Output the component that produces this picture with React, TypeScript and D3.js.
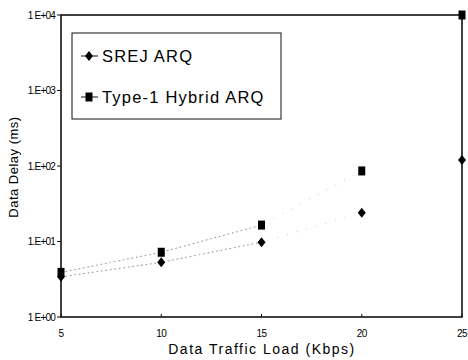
import React, { useEffect, useRef } from 'react'
import * as d3 from 'd3'

const loads = [5, 10, 15, 20, 25]
const srejDelay = [3.4, 5.3, 9.8, 24, 120]
const hybridDelay = [3.9, 7.2, 16.5, 86, 10000]
const yTicks = [1, 10, 100, 1000, 10000]
const yTickLabels = ['1 E+00', '1.E+01', '1.E+02', '1.E+03', '1 E+04']
const seriesNames = ['SREJ ARQ', 'Type-1 Hybrid ARQ']

const W = 468
const H = 360

function App() {
  const ref = useRef<SVGSVGElement>(null)

  useEffect(() => {
    const svg = d3.select(ref.current)
    svg.selectAll('*').remove()
    const left = 61, right = 462, top = 15, bottom = 317

    const x = d3.scaleLinear().domain([5, 25]).range([left, right])
    const y = d3.scaleLog().domain([1, 10000]).range([bottom, top])

    const font = 'Liberation Sans, Arial, sans-serif'

    // faint dotted lines between the points (fade out after 15 Kbps)
    const line = d3.line<number>()
      .x((d, i) => x(loads[i]))
      .y(d => y(d))
    ;[srejDelay, hybridDelay].forEach(vals => {
      svg.append('path')
        .attr('d', line(vals.slice(0, 3)))
        .attr('fill', 'none')
        .attr('stroke', '#888')
        .attr('stroke-width', 1)
        .attr('stroke-dasharray', '1.5 3')
      const seg = vals.slice(0, 4)
      svg.append('path')
        .attr('d', line(seg))
        .attr('fill', 'none')
        .attr('stroke', '#ccc')
        .attr('stroke-width', 1)
        .attr('stroke-dasharray', '1 9')
    })

    // frame
    svg.append('rect')
      .attr('x', left).attr('y', top)
      .attr('width', right - left).attr('height', bottom - top)
      .attr('fill', 'none').attr('stroke', '#111').attr('stroke-width', 1.6)

    // y ticks
    yTicks.forEach((t, i) => {
      svg.append('line')
        .attr('x1', left - 4).attr('x2', left)
        .attr('y1', y(t)).attr('y2', y(t))
        .attr('stroke', '#111')
      svg.append('text')
        .attr('x', left - 6).attr('y', y(t) + 3.5)
        .attr('text-anchor', 'end')
        .attr('font-family', font).attr('font-size', 10)
        .attr('letter-spacing', -0.8)
        .text(yTickLabels[i])
    })

    // x ticks
    loads.forEach(l => {
      svg.append('line')
        .attr('x1', x(l)).attr('x2', x(l))
        .attr('y1', bottom).attr('y2', bottom - 3)
        .attr('stroke', '#111')
      svg.append('text')
        .attr('x', x(l)).attr('y', bottom + 20)
        .attr('text-anchor', 'middle')
        .attr('font-family', font).attr('font-size', 10)
        .attr('letter-spacing', -0.5)
        .text(l)
    })

    // axis titles
    svg.append('text')
      .attr('x', 262).attr('y', 354)
      .attr('text-anchor', 'middle')
      .attr('font-family', font).attr('font-size', 14)
      .attr('letter-spacing', 1.5)
      .text('Data Traffic Load (Kbps)')
    svg.append('text')
      .attr('transform', 'translate(18,167) rotate(-90)')
      .attr('text-anchor', 'middle')
      .attr('font-family', font).attr('font-size', 13)
      .attr('letter-spacing', 0.5)
      .text('Data Delay (ms)')

    const diamond = (g: any, cx: number, cy: number) =>
      g.append('path')
        .attr('d', `M${cx},${cy - 5}L${cx + 4},${cy}L${cx},${cy + 5}L${cx - 4},${cy}Z`)
        .attr('fill', '#000')
    const square = (g: any, cx: number, cy: number) =>
      g.append('rect')
        .attr('x', cx - 3.5).attr('y', cy - 4.5)
        .attr('width', 7).attr('height', 9)
        .attr('fill', '#000')

    // points
    hybridDelay.forEach((v, i) => square(svg, x(loads[i]), y(v)))
    srejDelay.forEach((v, i) => diamond(svg, x(loads[i]), y(v)))

    // legend
    const lg = svg.append('g')
    lg.append('rect')
      .attr('x', 72).attr('y', 33).attr('width', 209).attr('height', 86)
      .attr('fill', '#fff').attr('stroke', '#111').attr('stroke-width', 1)
    const rows = [56, 97]
    seriesNames.forEach((name, i) => {
      const ry = rows[i]
      lg.append('line')
        .attr('x1', 81).attr('x2', 98).attr('y1', ry).attr('y2', ry)
        .attr('stroke', '#111')
      if (i === 0) diamond(lg, 89, ry)
      else square(lg, 89, ry)
      lg.append('text')
        .attr('x', 102).attr('y', ry + 6)
        .attr('font-family', font).attr('font-size', 16.5)
        .attr('letter-spacing', 1.2)
        .text(name)
    })
  }, [])

  return (
    <svg ref={ref} width={W} height={H}
      style={{ position: 'absolute', left: 0, top: 0, background: '#fff' }} />
  )
}

export default App
